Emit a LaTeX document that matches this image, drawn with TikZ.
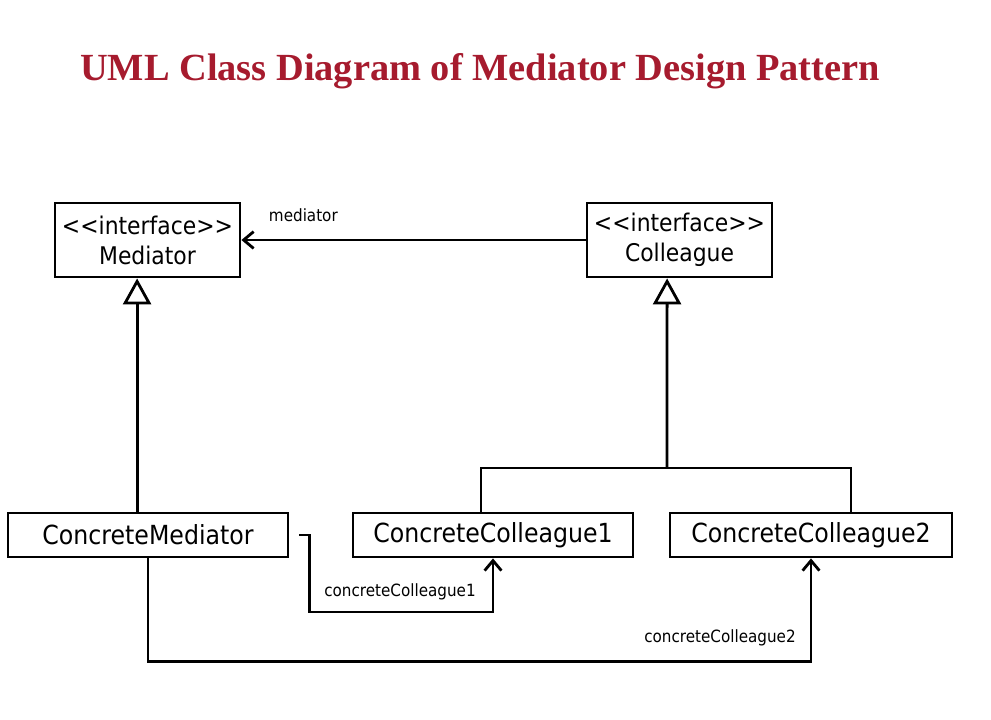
\documentclass[tikz,border=0pt]{standalone}
\usepackage{fontspec}
\setmainfont{Liberation Serif}
\newfontfamily\umlfont{DejaVu Sans}[FakeStretch=0.9]
\usetikzlibrary{arrows.meta}
\definecolor{titlered}{RGB}{166,27,46}

\begin{document}
\begin{tikzpicture}[x=0.025cm, y=-0.025cm,
  umlbox/.style={rectangle, draw, line width=2pt, minimum width=#1,
    align=center, inner sep=2pt,
    font=\umlfont\fontsize{18.7}{22}\selectfont},
  ifcbox/.style={umlbox=#1, minimum height=1.85cm,
    font=\umlfont\fontsize{17.3}{21.3}\selectfont},
  lbl/.style={font=\umlfont\fontsize{12}{14}\selectfont},
  wire/.style={line width=2pt},
  inherit/.style={wire, -{Triangle[open, length=0.65cm, width=0.7cm, line width=2pt]}},
  assoc/.style={wire, -{Straight Barb[length=0.25cm, width=0.42cm, line width=2pt]}}
]
\useasboundingbox (0,0) rectangle (991,719);
% title
\node[font=\bfseries\fontsize{27.3}{32}\selectfont, text=titlered, anchor=base]
  (title) at (480,80) {UML Class Diagram of Mediator Design Pattern};
% interfaces
\node[ifcbox=4.625cm] (med) at (147.5,240) {<<interface>>\\Mediator};
\node[ifcbox=4.625cm] (col) at (679.5,240) {<<interface>>\\Colleague};
% concrete classes
\node[umlbox=7cm, minimum height=1.1cm] (cm) at (148,535) {ConcreteMediator};
\node[umlbox=7cm, minimum height=1.1cm] (cc1) at (493,535) {ConcreteColleague1};
\node[umlbox=7.05cm, minimum height=1.1cm] (cc2) at (811,535) {ConcreteColleague2};

% mediator association
\draw[assoc] (col.west) -- (med.east)
  node[lbl, pos=0.82, above=0.3cm] (lmed) {mediator};

% generalisation
\draw[inherit] ([xshift=-0.26cm]cm.north -| med.south) -- ([xshift=-0.26cm]med.south);
\coordinate (fork) at (667,468);
\draw[wire] ([xshift=-0.3cm]cc1.north) |- (fork) -| ([xshift=1cm]cc2.north);
\draw[inherit] (fork) -- ([xshift=-0.31cm]col.south);

% concrete associations
\coordinate (cm1) at ([xshift=0.25cm]cm.east);
\draw[assoc] (cm1) -- ++(10,0) -- ++(0,77) -| (cc1.south);
\node[lbl] (lcc1) at (400,592) {concreteColleague1};
\draw[assoc] (cm.south) -- ++(0,103) -| (cc2.south);
\node[lbl] (lcc2) at (720,638) {concreteColleague2};
\end{tikzpicture}
\end{document}
